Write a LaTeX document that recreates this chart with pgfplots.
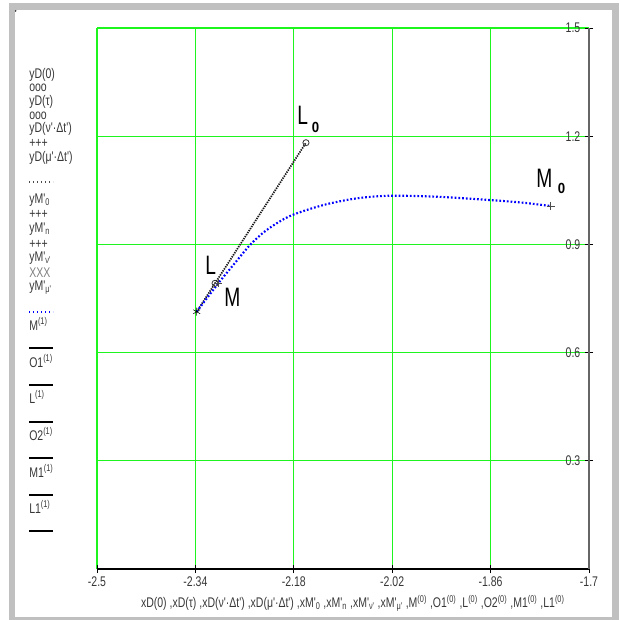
\documentclass[border=0pt]{standalone}
\usepackage{pgfplots}
\pgfplotsset{compat=1.18}
\usepackage{fontspec}
\setmainfont{Liberation Sans}
\newfontfamily\narrowfont[FakeStretch=0.75]{Liberation Sans}
\newfontfamily\labfont[FakeStretch=0.72]{Liberation Sans}
\newfontfamily\subfont[FakeStretch=0.9]{Liberation Sans Bold}
\definecolor{gridgreen}{RGB}{30,245,30}
\definecolor{framegray}{RGB}{192,192,192}
\definecolor{txtgray}{RGB}{55,55,55}
\newcommand{\sm}{\narrowfont\fontsize{10.5}{12}\selectfont}
\begin{document}
\begin{tikzpicture}[x=0.75pt,y=-0.75pt]
\path[use as bounding box] (0,0) rectangle (619,620);
\fill[framegray] (9,3) rectangle (619,10);
\fill[framegray] (9,3) rectangle (15,620);
\fill[framegray] (612,3) rectangle (619,620);
\fill[framegray] (9,617) rectangle (619,620);
\fill[black] (15.7,11) circle (0.8);

\begin{axis}[at={(72.75pt,-426.75pt)}, anchor=south west, scale only axis,
  width=369pt, height=405.75pt,
  xmin=-2.5, xmax=-1.7, ymin=0, ymax=1.5,
  axis x line*=bottom, axis y line*=right,
  xtick={-2.5,-2.34,-2.18,-2.02,-1.86,-1.7},
  ytick={0.3,0.6,0.9,1.2,1.5},
  grid=major, major grid style={color=gridgreen, line width=0.9pt},
  x axis line style={black, line width=0.8pt, -},
  y axis line style={black!60, line width=0.8pt, -},
  tick align=center, major tick length=6pt,
  tick style={black, line width=0.6pt},
  /pgf/number format/assume math mode=true,
  ticklabel style={font=\sm, text=txtgray},
  xticklabel style={yshift=1pt},
  yticklabel style={anchor=east, xshift=-6pt},
  xlabel={xD(0) ,xD(τ) ,xD(ν'·Δt') ,xD(μ'·Δt') ,xM'\textsubscript{0} ,xM'\textsubscript{n} ,xM'\textsubscript{ν'} ,xM'\textsubscript{μ'} ,M\textsuperscript{(0)} ,O1\textsuperscript{(0)} ,L\textsuperscript{(0)} ,O2\textsuperscript{(0)} ,M1\textsuperscript{(0)} ,L1\textsuperscript{(0)}},
  xlabel style={at={(axis description cs:0.52,-0.064)}, anchor=center, font=\sm, text=txtgray},
]
\addplot[black!90, line width=1.3pt, dash pattern=on 1pt off 0.8pt] coordinates {(-2.3379,0.7133) (-2.1602,1.1819)};
\addplot[blue, line width=1.6pt, dash pattern=on 1.3pt off 1.5pt, smooth] coordinates {
(-2.3379,0.7133) (-2.3028,0.7921) (-2.2784,0.8428) (-2.2512,0.8983) (-2.2241,0.9398)
(-2.1862,0.9787) (-2.1320,1.0091) (-2.0777,1.0277) (-2.0236,1.0349) (-1.9476,1.0322)
(-1.8610,1.0230) (-1.8068,1.0155) (-1.7623,1.0064)};
\addplot[only marks, mark=o, mark size=2.3pt, black!80, mark options={line width=0.6pt}] coordinates {(-2.1602,1.1819) (-2.3081,0.7921)};
\addplot[only marks, mark=+, mark size=3pt, black!70] coordinates {(-1.7623,1.0064) (-2.3028,0.7921)};
\addplot[only marks, mark=asterisk, mark size=3pt, black] coordinates {(-2.3379,0.7133)};
\end{axis}

% point labels
\begin{scope}[every node/.style={anchor=base west, inner sep=0pt}]
\node[font=\labfont\fontsize{20}{24}\selectfont] at (205,274) {L};
\node[font=\labfont\fontsize{20}{24}\selectfont] at (224,306.5) {M};
\node[font=\labfont\fontsize{20}{24}\selectfont] at (297,125) {L};
\node[font=\subfont\fontsize{11}{13}\selectfont] at (311.5,133) {0};
\node[font=\labfont\fontsize{20}{24}\selectfont] at (536,188) {M};
\node[font=\subfont\fontsize{11}{13}\selectfont] at (557.5,194) {0};
\end{scope}

% legend
\begin{scope}[every node/.style={anchor=west, inner sep=0pt, font=\sm, text=txtgray}]
\node at (29,75) {yD(0)};
\node at (29,88) {ooo};
\node at (29,102) {yD(τ)};
\node at (29,116) {ooo};
\node at (29,129) {yD(ν'·Δt')};
\node at (29,143) {+++};
\node at (29,158) {yD(μ'·Δt')};
\node at (29,200) {yM'\textsubscript{0}};
\node at (29,214) {+++};
\node at (29,229) {yM'\textsubscript{n}};
\node at (29,244) {+++};
\node at (29,258) {yM'\textsubscript{ν'}};
\node[text=gray] at (29,273) {XXX};
\node at (29,288) {yM'\textsubscript{μ'}};
\node at (29,324) {M\textsuperscript{(1)}};
\node at (29,361) {O1\textsuperscript{(1)}};
\node at (29,397) {L\textsuperscript{(1)}};
\node at (29,434) {O2\textsuperscript{(1)}};
\node at (29,471) {M1\textsuperscript{(1)}};
\node at (29,507) {L1\textsuperscript{(1)}};
\end{scope}
\draw[black!70, line width=1pt, dash pattern=on 1pt off 2pt] (29,182) -- (53,182);
\draw[blue, line width=1pt, dash pattern=on 1pt off 2pt] (29,312) -- (53,312);
\foreach \yy in {348,385,422,458,495,531}
  \draw[black, line width=2.2pt] (29,\yy) -- (53,\yy);
\end{tikzpicture}
\end{document}
